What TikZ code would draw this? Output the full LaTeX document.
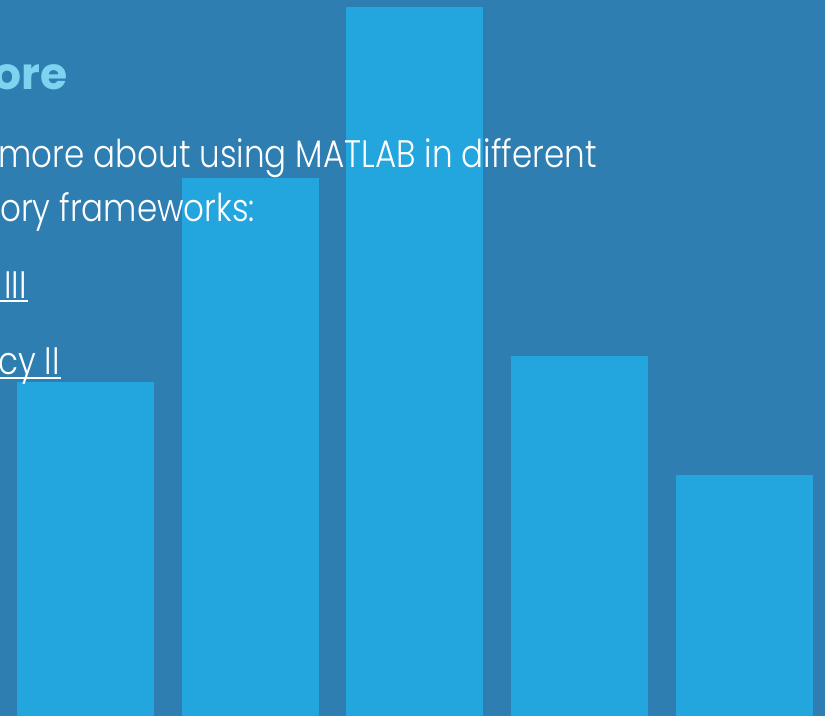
\documentclass[tikz,border=0pt]{standalone}
\usepackage{fontspec}
\newfontfamily\headfont{Poppins}
\newfontfamily\bodyfont{Poppins Light}[FakeStretch=0.85]
\usetikzlibrary{positioning}
\definecolor{bgblue}{RGB}{46,126,177}
\definecolor{barblue}{RGB}{35,166,222}
\definecolor{headblue}{RGB}{125,211,240}
\tikzstyle{bar} = [fill=barblue, inner sep=0pt, anchor=north west, minimum width=137pt]
\tikzstyle{head} = [text=headblue, inner sep=0pt, anchor=base east, font={\headfont\bfseries\fontsize{44}{50}\selectfont}]
\tikzstyle{body} = [text=white, inner sep=0pt, anchor=base east, font={\bodyfont\fontsize{38.3}{46}\selectfont}]
\tikzstyle{uline} = [white, line width=1.6pt]

\begin{document}
\begin{tikzpicture}[x=1pt, y=-1pt]
\useasboundingbox (0,0) rectangle (825,716);
\clip (0,0) rectangle (825,716);
\node (frame) [fill=bgblue, inner sep=0pt, anchor=north west, minimum width=825pt, minimum height=716pt] at (0,0) {};

\foreach \x/\t [count=\i] in {17/382, 182/178, 346/7, 511/356, 676/475}
  \node (bar\i) [bar, minimum height={(716-\t)*1pt}] at (\x,\t) {};

\node (ore) [head] at (68,89) {ore};
\node (line1) [body] at (597,167) {more about using MATLAB in different};
\node (line2) [body] at (255,221) {ory frameworks:};

\node (basel) [body] at (27,298) {III};
\node (solv) [body] at (60,374) {cy II};
\draw[uline] ([yshift=-3pt]basel.base west -| frame.west) -- ([yshift=-3pt,xshift=1pt]basel.base east);
\draw[uline] ([yshift=-4pt]solv.base west -| frame.west) -- ([yshift=-4pt,xshift=1pt]solv.base east);
\end{tikzpicture}
\end{document}
